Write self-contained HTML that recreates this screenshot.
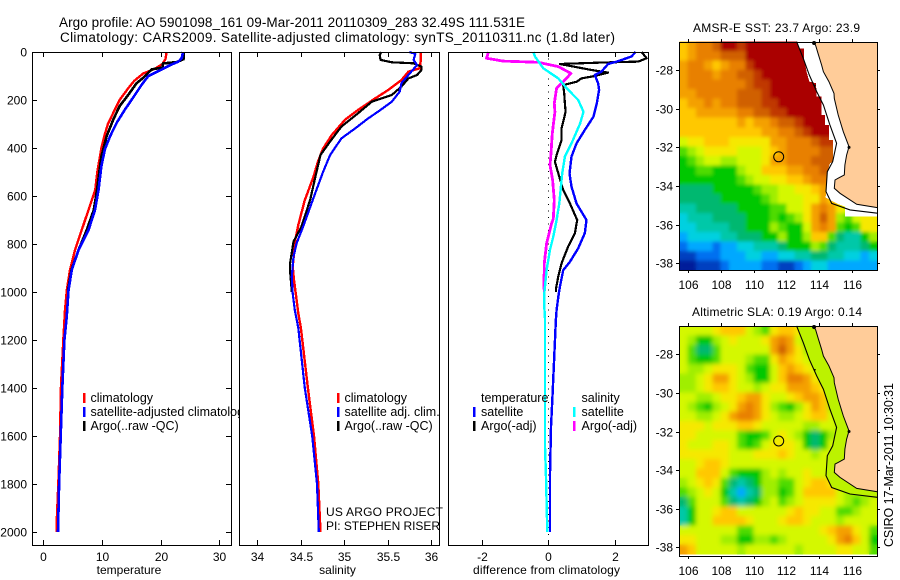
<!DOCTYPE html>
<html lang="en">
<head>
<meta charset="utf-8">
<title>Argo profile 5901098_161</title>
<style>
html,body{margin:0;padding:0;background:#fff;width:900px;height:580px;overflow:hidden}
svg{display:block}
text{font-family:"Liberation Sans",sans-serif;font-size:12px;fill:#000}
text.lg{font-size:12.5px}
</style>
</head>
<body>
<svg id="figure" width="900" height="580" viewBox="0 0 900 580" xmlns="http://www.w3.org/2000/svg">
  <defs>
    <filter id="blurSST" x="-5%" y="-5%" width="110%" height="110%"><feGaussianBlur stdDeviation="1.8"/></filter>
    <filter id="blurSLA" x="-5%" y="-5%" width="110%" height="110%"><feGaussianBlur stdDeviation="2.4"/></filter>
    <clipPath id="clipSST"><rect x="679" y="42" width="198" height="228"/></clipPath>
    <clipPath id="clipSLA"><rect x="679" y="326" width="198" height="228"/></clipPath>
  </defs>
  <rect width="900" height="580" fill="#fff"/>
  <text x="59" y="27" style="font-size:13.5px" textLength="466" lengthAdjust="spacing">Argo profile: AO 5901098_161 09-Mar-2011 20110309_283 32.49S 111.531E</text>
  <text x="60" y="42" style="font-size:13.5px" textLength="555" lengthAdjust="spacing">Climatology: CARS2009. Satellite-adjusted climatology: synTS_20110311.nc (1.8d later)</text>

  <g id="panelT">
    <rect x="32" y="52" width="199" height="493" fill="#fff"/>
    <g id="panelTmarks"></g>
    <rect x="32.5" y="52.5" width="199" height="493" fill="none" stroke="#000" stroke-width="1" shape-rendering="crispEdges"/>
    <g>
      <rect x="83" y="393" width="2.5" height="10" fill="#f00"/>
      <text class="lg" x="90.5" y="402">climatology</text>
      <rect x="83" y="407" width="2.5" height="10" fill="#00f"/>
      <text class="lg" x="90.5" y="416">satellite-adjusted climatology</text>
      <rect x="83" y="421" width="2.5" height="10" fill="#000"/>
      <text class="lg" x="90.5" y="430">Argo(..raw -QC)</text>
    </g>
    <text x="129" y="574" text-anchor="middle">temperature</text>
  </g>

  <g id="panelS">
    <rect x="239" y="52" width="200" height="493" fill="#fff"/>
    <g id="panelSmarks"></g>
    <rect x="239.5" y="52.5" width="200" height="493" fill="none" stroke="#000" stroke-width="1" shape-rendering="crispEdges"/>
    <g>
      <rect x="337" y="393" width="2.5" height="10" fill="#f00"/>
      <text class="lg" x="344.5" y="402">climatology</text>
      <rect x="337" y="407" width="2.5" height="10" fill="#00f"/>
      <text class="lg" x="344.5" y="416">satellite adj. clim.</text>
      <rect x="337" y="421" width="2.5" height="10" fill="#000"/>
      <text class="lg" x="344.5" y="430">Argo(..raw -QC)</text>
    </g>
    <text x="326" y="516" textLength="117" lengthAdjust="spacing">US ARGO PROJECT</text>
    <text x="326" y="530" textLength="114" lengthAdjust="spacing">PI: STEPHEN RISER</text>
    <text x="337.5" y="574" text-anchor="middle">salinity</text>
  </g>

  <g id="panelD">
    <rect x="448" y="52" width="200" height="493" fill="#fff"/>
    <line x1="548.5" y1="52" x2="548.5" y2="545" stroke="#000" stroke-width="1" stroke-dasharray="1 5.6" shape-rendering="crispEdges"/>
    <g id="panelDmarks"></g>
    <rect x="448.5" y="52.5" width="200" height="493" fill="none" stroke="#000" stroke-width="1" shape-rendering="crispEdges"/>
    <g>
      <text class="lg" x="481" y="402">temperature</text>
      <rect x="473" y="407" width="2.5" height="10" fill="#00f"/>
      <text class="lg" x="481" y="416">satellite</text>
      <rect x="473" y="421" width="2.5" height="10" fill="#000"/>
      <text class="lg" x="481" y="430">Argo(-adj)</text>
      <text class="lg" x="581.5" y="402">salinity</text>
      <rect x="573" y="407" width="2.5" height="10" fill="#0ff"/>
      <text class="lg" x="581.5" y="416">satellite</text>
      <rect x="573" y="421" width="2.5" height="10" fill="#f0f"/>
      <text class="lg" x="581.5" y="430">Argo(-adj)</text>
    </g>
    <text x="546.5" y="574" text-anchor="middle" textLength="147" lengthAdjust="spacing">difference from climatology</text>
  </g>

  <g id="mapSST"></g>
  <text x="693" y="32" textLength="167" lengthAdjust="spacing">AMSR-E SST: 23.7 Argo: 23.9</text>
  <g id="mapSLA"></g>
  <text x="692" y="316" textLength="170" lengthAdjust="spacing">Altimetric SLA: 0.19 Argo: 0.14</text>
  <text transform="translate(893,547) rotate(-90)" x="0" y="0" style="font-size:12.5px" textLength="164" lengthAdjust="spacing">CSIRO 17-Mar-2011 10:30:31</text>
</svg>

<script>
// ---------- profile data ----------
const tempClimDepth=[0,30,50,70,90,120,150,200,250,300,350,400,500,575,658,742,825,908,992,1075,1200,1400,1600,1800,1950,2000];
const tempClimValues=[21,20.8,20.3,19,17,15.5,14.5,13,12,11,10.4,9.9,9.2,8.85,7.7,6.55,5.4,4.55,4,3.7,3.4,3,2.85,2.55,2.3,2.3];
const tempArgoDepth=[0,30,42,48,65,72,108,130,178,226,282,350,435,545,575,658,742,825,908,992];
const tempArgoValues=[23.9,23.9,22.7,20.4,20.3,18.5,17,15.9,14.5,13,11.9,10.8,9.9,9.3,9.15,8.6,7.4,6,4.8,4.2];
const tempSatDepth=[0,25,40,55,75,100,135,190,240,295,350,405,475,575,658,742,825,908,992,1100,1200,1400,1600,1800,2000];
const tempSatValues=[23.8,23.6,23,21.6,20,17.9,16.8,15.3,13.9,12.5,11.4,10.5,9.9,9.4,8.8,7.7,6,4.85,4.3,4,3.6,3.24,2.97,2.7,2.5];

const salClimDepth=[0,40,68,82,117,158,193,242,283,346,402,457,520,617,721,783,894,950,1033,1089,1150,1400,1600,1800,2000];
const salClimValues=[35.88,35.88,35.87,35.74,35.66,35.51,35.36,35.16,35.01,34.86,34.76,34.7,34.65,34.55,34.475,34.44,34.41,34.425,34.455,34.475,34.505,34.585,34.655,34.705,34.73];
const salArgoDepth=[0,12,33,43,47,61,75,96,110,144,179,207,256,311,373,429,505,617,728,790,880,915,1000];
const salArgoValues=[35.43,35.41,35.42,35.55,35.8,35.89,35.89,35.84,35.74,35.66,35.55,35.32,35.16,34.97,34.84,34.73,34.68,34.61,34.51,34.42,34.38,34.38,34.4];
const salSatDepth=[0,8,33,54,96,130,165,207,249,276,318,360,429,499,617,728,797,853,936,1006,1075,1150,1400,1600,1800,2000];
const salSatValues=[35.75,35.82,35.8,35.84,35.74,35.66,35.64,35.55,35.39,35.28,35.13,34.97,34.84,34.76,34.64,34.53,34.455,34.42,34.4,34.41,34.435,34.475,34.55,34.635,34.69,34.71];

const diffTempSatDepth=[0,19,40,50,82,96,130,158,214,269,325,381,436,506,561,631,700,755,818,874,909,978,1020,1075,1114,1423,1562,1757,2000];
const diffTempSatValues=[2.63,2.5,2.06,1.8,1.6,1.4,1.5,1.53,1.46,1.36,1.1,.85,.7,.64,.7,.85,1.15,1.1,.9,.65,.45,.35,.3,.25,.23,.13,.08,.05,.05];
const diffTempArgoDepth=[0,26,40,44,50,75,86,100,110,124,138,172,214,249,318,367,429,457,506,575,631,700,755,810,880,935,988,1000];
const diffTempArgoValues=[2.81,2.96,2.71,1.56,.35,1.3,1.8,1.4,1,.85,.45,.48,.5,.52,.4,.4,.25,.2,.3,.45,.65,.87,.8,.6,.4,.3,.23,.23];
const diffSalSatDepth=[0,19,68,110,151,200,249,297,381,436,506,575,631,700,769,824,908,1006,1061,1110,1423,1645,1771,2000];
const diffSalSatValues=[-.45,-.4,-.15,.3,.55,.9,1.06,.96,.7,.5,.42,.37,.33,.25,.15,.05,-.05,-.12,-.12,-.1,-.1,-.1,-.07,-.03];
const diffSalArgoDepth=[0,26,38,43,61,89,124,151,214,249,339,422,471,533,617,694,715,797,880,978,1000];
const diffSalArgoValues=[-1.8,-1.86,-1.36,-.3,.3,.68,.45,.25,.18,.2,.12,.08,.05,.13,.18,.15,.1,-.05,-.12,-.13,-.12];

// ---------- axis tick labels ----------
const depthTicks=[0,200,400,600,800,1000,1200,1400,1600,1800,2000];
const tempTicks=[0,10,20,30];
const salTicks=[34,34.5,35,35.5,36];
const diffTicks=[-2,0,2];
const lonTicks=[106,108,110,112,114,116];
const latTicks=[-28,-30,-32,-34,-36,-38];

// ---------- map data (colour-scale level per half-degree cell, -1 = no data) ----------
const sstLevels=[
[12,13,14,14,15,17,17,16,17,17,17,17,17,17,-1,-1,-1,-1,-1,-1,-1,-1,-1,-1],
[12,13,14,14,14,15,15,15,17,17,17,17,17,17,17,-1,-1,-1,-1,-1,-1,-1,-1,-1],
[13,14,14,13,12,13,14,14,16,17,17,17,17,17,17,-1,-1,-1,-1,-1,-1,-1,-1,-1],
[13,14,14,14,13,14,14,15,15,16,17,17,17,17,17,17,-1,-1,-1,-1,-1,-1,-1,-1],
[13,14,14,14,14,14,14,14,15,16,16,17,17,17,17,17,-1,-1,-1,-1,-1,-1,-1,-1],
[13,13,14,14,14,14,14,15,15,15,16,17,17,17,17,17,17,-1,-1,-1,-1,-1,-1,-1],
[12,13,13,14,13,14,14,15,15,15,16,16,17,17,17,17,17,-1,-1,-1,-1,-1,-1,-1],
[12,12,13,13,13,13,13,14,14,15,15,16,16,17,17,17,17,17,-1,-1,-1,-1,-1,-1],
[12,12,12,12,12,12,12,13,12,13,13,14,15,15,16,17,17,17,-1,-1,-1,-1,-1,-1],
[12,12,12,12,12,12,12,12,12,12,13,13,14,14,15,16,17,17,-1,-1,-1,-1,-1,-1],
[10,11,11,12,12,12,11,11,11,11,11,13,13,14,14,14,15,16,16,-1,-1,-1,-1,-1],
[8,9,10,11,11,11,11,10,10,10,11,12,13,14,14,14,14,15,15,-1,-1,-1,-1,-1],
[7,8,9,10,10,9,9,10,10,10,11,13,13,14,14,14,15,15,15,-1,-1,-1,-1,-1],
[7,7,8,8,7,7,7,9,10,10,12,12,12,13,13,14,14,15,-1,-1,-1,-1,-1,-1],
[7,7,7,7,7,7,7,8,9,10,10,11,11,12,12,13,14,14,-1,-1,-1,-1,-1,-1],
[6,6,6,6,7,7,7,7,7,8,9,9,10,10,11,11,12,13,-1,-1,-1,-1,-1,-1],
[6,6,6,6,6,7,7,7,7,7,8,9,10,10,10,11,11,13,12,-1,-1,-1,-1,-1],
[5,5,6,6,6,6,6,7,7,7,7,8,8,10,10,11,13,14,13,11,10,-1,-1,-1],
[4,5,5,5,6,6,6,6,7,7,7,8,7,8,9,11,13,15,13,9,8,10,11,11],
[4,4,5,5,5,5,6,6,7,7,7,9,8,7,7,10,13,14,13,8,7,8,11,11],
[3,4,4,4,4,5,5,6,6,6,7,7,9,7,7,9,12,12,8,6,5,5,7,9],
[2,3,3,3,2,3,3,4,4,5,5,5,6,7,7,7,9,8,6,5,5,5,6,7],
[1,1,2,2,2,3,3,3,4,4,3,3,4,4,5,5,6,6,5,5,4,4,3,4],
[0,0,1,1,1,2,3,3,3,3,2,2,1,1,2,3,4,4,3,3,3,3,3,3]];

const slaLevels=[
[10,10,10,10,11,12,12,12,10,9,8,11,12,12,11,9,9,10,10,10,10,10,10,10],
[10,9,7,7,9,10,11,10,10,10,11,13,14,13,10,8,9,9,10,10,10,10,10,10],
[10,8,6,6,8,10,10,10,10,10,10,13,15,13,11,9,9,9,9,9,9,9,9,9],
[10,8,7,7,8,10,10,10,9,8,8,11,13,12,11,10,9,9,9,9,9,9,9,9],
[10,9,9,10,11,11,11,10,8,7,7,10,12,13,12,11,10,9,9,9,9,9,9,9],
[9,9,10,11,13,13,11,10,9,7,7,10,12,14,14,13,11,9,9,9,9,9,9,9],
[9,9,10,11,12,12,11,10,10,9,10,11,11,13,13,13,12,11,9,9,9,9,9,9],
[10,10,9,9,10,11,11,12,13,13,11,10,10,11,12,13,13,12,9,9,9,9,9,9],
[10,9,8,7,9,10,11,13,14,13,11,9,8,7,9,11,13,12,9,9,9,9,9,9],
[10,10,9,9,10,11,13,14,14,13,11,10,9,9,10,11,12,12,10,9,9,9,9,9],
[11,11,11,10,11,11,11,12,12,11,10,10,10,10,10,9,9,10,10,9,9,9,9,9],
[11,11,10,10,10,10,10,8,7,7,8,10,11,10,9,7,6,7,9,10,9,9,9,9],
[11,10,10,10,11,11,10,8,7,8,10,11,11,11,10,7,6,7,10,9,9,9,9,9],
[11,11,11,11,11,11,10,10,10,11,11,11,12,11,10,10,9,10,10,9,9,9,9,9],
[10,10,11,12,12,11,10,10,10,10,10,10,10,10,10,10,10,10,10,10,9,9,9,9],
[10,10,12,12,12,10,8,7,7,7,9,10,9,10,10,11,10,10,9,9,9,9,9,9],
[9,10,11,12,11,8,6,5,6,7,9,9,8,8,10,11,12,12,11,9,9,9,9,9],
[8,9,10,11,10,7,5,3,5,6,9,9,7,8,10,12,12,12,12,10,9,9,9,9],
[6,8,10,10,10,8,6,5,6,7,9,10,8,9,10,11,11,11,11,10,9,8,9,10],
[5,7,10,10,11,12,12,10,10,10,10,10,10,11,12,11,11,10,10,8,8,9,10,10],
[5,7,10,10,12,12,12,12,11,10,10,10,11,12,12,11,10,10,10,9,10,10,10,10],
[10,10,10,10,10,10,10,8,8,10,10,10,10,10,10,10,10,11,12,13,13,11,10,8],
[11,11,10,10,10,9,9,7,7,9,9,8,9,10,10,10,10,10,11,13,14,12,10,7],
[13,12,10,10,10,10,10,9,10,10,10,10,10,10,9,10,10,10,10,11,11,10,10,8]];

// coastline, shelf contour and SST no-data edge, lon/lat
const coastLon=[113.65,113.8,113.96,114.16,114.27,114.61,114.92,114.94,115.18,115.49,115.84,115.69,115.59,115.55,115.18,114.98,114.94,115.29,116.31,117.57];
const coastLat=[-26.53,-26.74,-27.19,-27.74,-28.09,-28.6,-29.21,-29.47,-30.33,-31.19,-31.97,-32.4,-32.91,-33.43,-33.6,-33.69,-34.12,-34.38,-34.95,-35.12];
const shelfLon=[112.63,113.04,113.41,113.86,114.27,114.67,115.08,114.84,114.51,114.43,114.78,115.9,117.57];
const shelfLat=[-26.53,-27.4,-28.26,-29.12,-29.81,-30.84,-31.79,-32.74,-33.26,-34.29,-34.9,-35.24,-35.41];
const noDataLon=[112.63,112.78,113.08,113.08,113.24,113.41,113.82,113.86,114.16,114.16,114.37,114.37,114.61,114.61,114.86,114.86,114.67,114.47,114.41,115.08,115.59,115.59,117.57,117.57];
const noDataLat=[-26.53,-26.88,-26.88,-27.4,-28.09,-28.6,-28.69,-29.38,-29.38,-30.33,-30.33,-30.84,-30.84,-31.62,-31.62,-32.74,-32.83,-33.43,-34.6,-34.9,-35.07,-35.59,-35.59,-26.53];
const floatLon=[111.531];
const floatLat=[-32.49];

// ---------- scales ----------
const NS='http://www.w3.org/2000/svg';
const colourScale=['#001a9a','#0040c0','#0070f0','#00a8ff','#00d0e0','#00c8a8','#00b870','#00c800','#50dc00','#a0ee00','#d4f800','#f6e800','#ffc800','#f4a000','#e88000','#d06000','#c03800','#aa0000'];
const yDepth=d=>52+0.24*d;
const xTemp=v=>43.3+5.87*v;
const xSal=v=>257+87*(v-34);
const xDiff=v=>548.3+33.2*v;
const xLon=lon=>688.33+16.33*(lon-106);
const ySST=lat=>70+19.33*(-28-lat);
const ySLA=lat=>354.3+19.3*(-28-lat);

function make(parent,tag,attrs,txt){
  const el=document.createElementNS(NS,tag);
  for(const k in attrs) el.setAttribute(k,attrs[k]);
  if(txt!==undefined) el.textContent=txt;
  parent.appendChild(el);
  return el;
}

function drawProfile(parent,depths,values,xFn,colour,width,label){
  const pts=depths.map((d,i)=>xFn(values[i]).toFixed(1)+','+yDepth(d).toFixed(1)).join(' ');
  const line=make(parent,'polyline',{points:pts,fill:'none',stroke:colour,'stroke-width':width,'stroke-linejoin':'round','shape-rendering':'crispEdges'});
  
  
}

const gT=document.getElementById('panelTmarks');
drawProfile(gT,tempClimDepth,tempClimValues,xTemp,'#f00',2.4,'temperature-climatology-line');
drawProfile(gT,tempArgoDepth,tempArgoValues,xTemp,'#000',2.6,'temperature-argo-line');
drawProfile(gT,tempSatDepth,tempSatValues,xTemp,'#00f',2.6,'temperature-satellite-line');

const gS=document.getElementById('panelSmarks');
drawProfile(gS,salClimDepth,salClimValues,xSal,'#f00',2.4,'salinity-climatology-line');
drawProfile(gS,salArgoDepth,salArgoValues,xSal,'#000',2.2,'salinity-argo-line');
drawProfile(gS,salSatDepth,salSatValues,xSal,'#00f',2.2,'salinity-satellite-line');

const gD=document.getElementById('panelDmarks');
drawProfile(gD,diffTempArgoDepth,diffTempArgoValues,xDiff,'#000',2.2,'difference-temperature-argo-line');
drawProfile(gD,diffTempSatDepth,diffTempSatValues,xDiff,'#00f',2.4,'difference-temperature-satellite-line');
drawProfile(gD,diffSalArgoDepth,diffSalArgoValues,xDiff,'#f0f',2.8,'difference-salinity-argo-line');
drawProfile(gD,diffSalSatDepth,diffSalSatValues,xDiff,'#0ff',2.4,'difference-salinity-satellite-line');

// ---------- profile axes ----------
function tickLine(parent,x1,y1,x2,y2,label){
  const t=make(parent,'line',{x1:x1,y1:y1,x2:x2,y2:y2,stroke:'#000','stroke-width':1,'shape-rendering':'crispEdges'});
  
  
}
function tickText(parent,x,y,anchor,str,label){
  const t=make(parent,'text',{x:x,y:y,'text-anchor':anchor},str);
  
  
}
function xAxis(parent,ticks,xFn,prefix){
  ticks.forEach(v=>{
    const x=Math.round(xFn(v))+0.5;
    tickLine(parent,x,53,x,57,prefix+'-top-tick');
    tickLine(parent,x,540,x,545,prefix+'-bottom-tick');
    tickText(parent,x,561,'middle',String(v),prefix+'-tick-label');
  });
}
const pT=document.getElementById('panelT');
const pS=document.getElementById('panelS');
const pD=document.getElementById('panelD');
xAxis(pT,tempTicks,xTemp,'temperature-x');
xAxis(pS,salTicks,xSal,'salinity-x');
xAxis(pD,diffTicks,xDiff,'difference-x');
depthTicks.forEach(d=>{
  const y=Math.round(yDepth(d))+0.5;
  tickLine(pT,32,y,37,y,'depth-left-tick');
  tickLine(pT,226,y,231,y,'depth-right-tick');
  tickText(pT,27,y+4,'end',String(d),'depth-tick-label');
});

// ---------- maps ----------
const cellLon0=105.45, cellLonStep=0.5046, cellLat0=-26.53, cellLatStep=0.4925;

function drawMap(id,levels,yFn,top,bottom,prefix,isSLA){
  const g=document.getElementById(id);
  const left=679, right=877;
  const bg=make(g,'rect',{x:left,y:top,width:right-left,height:bottom-top,fill:'#fff'});
  
  
  const cellsId=prefix+'CellGrid';
  const cells=make(g,'g',{id:cellsId});
  
  
  levels.forEach((row,r)=>{
    let last=row[0];
    row.forEach((lv,c)=>{
      // no-data cells carry the last value; the no-data mask covers them
      const shown=lv<0?last:lv;
      last=shown;
      const x0=xLon(cellLon0+c*cellLonStep), x1=xLon(cellLon0+(c+1)*cellLonStep);
      const y0=yFn(cellLat0-r*cellLatStep), y1=yFn(cellLat0-(r+1)*cellLatStep);
      const cell=make(cells,'rect',{x:x0.toFixed(1),y:y0.toFixed(1),width:(x1-x0+0.4).toFixed(1),height:(y1-y0+0.4).toFixed(1),fill:colourScale[shown],'shape-rendering':'crispEdges'});
      
      
    });
  });
  // smoothed copy of the same cells, so the field reads as continuous
  const soft=make(g,'g',{'clip-path':'url(#clip'+prefix.toUpperCase()+')'});
  
  
  const softUse=make(soft,'use',{href:'#'+cellsId,filter:'url(#blur'+prefix.toUpperCase()+')'});
  
  

  const coastPts=coastLon.map((lo,i)=>xLon(lo).toFixed(1)+','+yFn(coastLat[i]).toFixed(1));
  const shelfPts=shelfLon.map((lo,i)=>xLon(lo).toFixed(1)+','+yFn(shelfLat[i]).toFixed(1));
  if(isSLA){
    const strip=make(g,'polygon',{points:shelfPts.concat(coastPts.slice().reverse()).join(' '),fill:'#bcf200'});
    
    
  } else {
    const mask=make(g,'polygon',{points:noDataLon.map((lo,i)=>xLon(lo).toFixed(1)+','+yFn(noDataLat[i]).toFixed(1)).join(' '),fill:'#fff','shape-rendering':'crispEdges'});
    
    
  }
  const landPts=coastPts.concat([right+','+yFn(coastLat[coastLat.length-1]).toFixed(1),right+','+top,xLon(coastLon[0]).toFixed(1)+','+top]).join(' ');
  const land=make(g,'polygon',{points:landPts,fill:'#ffcc99'});
  
  
  const coast=make(g,'polyline',{points:coastPts.join(' '),fill:'none',stroke:'#000','stroke-width':1});
  
  
  const shelf=make(g,'polyline',{points:shelfPts.join(' '),fill:'none',stroke:'#000','stroke-width':1.1});
  
  
  const blob=make(g,'circle',{cx:xLon(113.7),cy:Math.max(top+1,yFn(-26.58)),r:2,fill:'#000'});
  
  
  const blob2=make(g,'circle',{cx:xLon(115.84),cy:yFn(-32),r:1.5,fill:'#000'});
  
  
  const blob3=make(g,'circle',{cx:xLon(113.75),cy:yFn(-28.8),r:0.9,fill:'#000'});
  
  
  floatLon.forEach((lo,i)=>{
    const mk=make(g,'circle',{cx:xLon(lo).toFixed(1),cy:yFn(floatLat[i]).toFixed(1),r:5,fill:'none',stroke:'#000','stroke-width':1});
    
    
  });
  const frame=make(g,'rect',{x:left+0.5,y:top+0.5,width:right-left,height:bottom-top,fill:'none',stroke:'#000','stroke-width':1,'shape-rendering':'crispEdges'});
  
  
  lonTicks.forEach(lo=>{
    const x=Math.round(xLon(lo))+0.5;
    tickLine(g,x,top-3,x,top,prefix+'-lon-top-tick');
    tickLine(g,x,bottom,x,bottom+3,prefix+'-lon-bottom-tick');
    tickText(g,x,bottom+19,'middle',String(lo),prefix+'-lon-tick-label');
  });
  latTicks.forEach(la=>{
    const y=Math.round(yFn(la))+0.5;
    tickLine(g,left-3,y,left,y,prefix+'-lat-left-tick');
    tickLine(g,right,y,right+3,y,prefix+'-lat-right-tick');
    tickText(g,673,y+4,'end',String(la),prefix+'-lat-tick-label');
  });
}
drawMap('mapSST',sstLevels,ySST,42,270,'sst',false);
drawMap('mapSLA',slaLevels,ySLA,326,556,'sla',true);
</script>
</body>
</html>
